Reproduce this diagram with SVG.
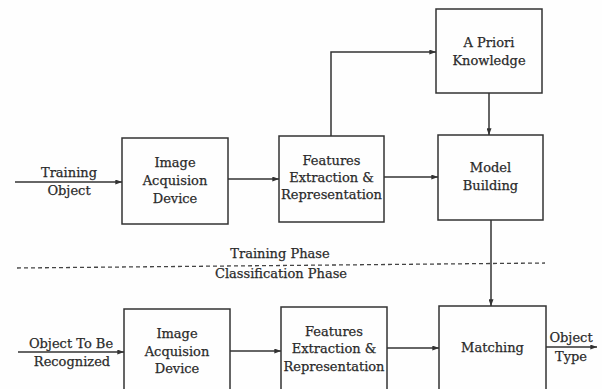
<svg xmlns="http://www.w3.org/2000/svg" width="602" height="389" viewBox="0 0 602 389">
<defs>
<marker id="ah" viewBox="0 0 8 6" refX="8" refY="3" markerWidth="7" markerHeight="5" markerUnits="userSpaceOnUse" orient="auto">
<path d="M0,0 L8,3 L0,6 Z" fill="#333"/>
</marker>
</defs>
<style>
.box{fill:none;stroke:#333;stroke-width:1.5}
.ln{fill:none;stroke:#333;stroke-width:1.5}
.arr{fill:none;stroke:#333;stroke-width:1.5;marker-end:url(#ah)}
.dash{fill:none;stroke:#444;stroke-width:1.3;stroke-dasharray:4 3}
text{font-family:"DejaVu Serif","Liberation Serif",serif;font-size:13px;fill:#2a2a2a;stroke:#2a2a2a;stroke-width:0.25;text-anchor:middle;dominant-baseline:central}
</style>
<rect width="602" height="389" fill="#fefefe"/>
<g id="connectors">
<line class="arr" x1="15" y1="182" x2="122" y2="182"/>
<line class="arr" x1="228" y1="179" x2="279" y2="179"/>
<line class="arr" x1="384" y1="177" x2="438" y2="177"/>
<polyline class="arr" points="331,136 331,52 436,52"/>
<line class="arr" x1="489" y1="93" x2="489" y2="135"/>
<line class="arr" x1="491" y1="220" x2="491" y2="306"/>
<line class="arr" x1="18" y1="352" x2="124" y2="352"/>
<line class="arr" x1="230" y1="351" x2="281" y2="351"/>
<line class="arr" x1="387" y1="348" x2="439" y2="348"/>
<line class="arr" x1="546" y1="347" x2="597" y2="347"/>
</g>
<g id="phase-divider">
<line class="dash" x1="17" y1="268" x2="545" y2="263"/>
<text x="280" y="253">Training Phase</text>
<text x="281" y="273">Classification Phase</text>
</g>
<g id="label-training-object">
<text x="69" y="172">Training</text>
<text x="69" y="190">Object</text>
</g>
<g id="node-image-acq-top">
<rect class="box" x="122" y="138" width="106" height="86"/>
<text x="175" y="162">Image</text>
<text x="175" y="180">Acquision</text>
<text x="175" y="198">Device</text>
</g>
<g id="node-features-top">
<rect class="box" x="279" y="136" width="105" height="86"/>
<text x="331.5" y="160">Features</text>
<text x="331.5" y="177">Extraction &amp;</text>
<text x="331.5" y="194">Representation</text>
</g>
<g id="node-apriori">
<rect class="box" x="436" y="9" width="106" height="84"/>
<text x="489" y="42">A Priori</text>
<text x="489" y="60">Knowledge</text>
</g>
<g id="node-model">
<rect class="box" x="438" y="135" width="105" height="85"/>
<text x="490.5" y="167">Model</text>
<text x="490.5" y="185">Building</text>
</g>
<g id="label-object-to-be">
<text x="71" y="343">Object To Be</text>
<text x="72" y="361">Recognized</text>
</g>
<g id="node-image-acq-bottom">
<rect class="box" x="124" y="309" width="106" height="86"/>
<text x="177" y="333">Image</text>
<text x="177" y="351">Acquision</text>
<text x="177" y="368">Device</text>
</g>
<g id="node-features-bottom">
<rect class="box" x="281" y="307" width="106" height="88"/>
<text x="334" y="331">Features</text>
<text x="334" y="348">Extraction &amp;</text>
<text x="334" y="366">Representation</text>
</g>
<g id="node-matching">
<rect class="box" x="439" y="306" width="107" height="89"/>
<text x="492.5" y="347">Matching</text>
</g>
<g id="label-object-type">
<text x="571" y="337">Object</text>
<text x="571" y="356">Type</text>
</g>
</svg>
